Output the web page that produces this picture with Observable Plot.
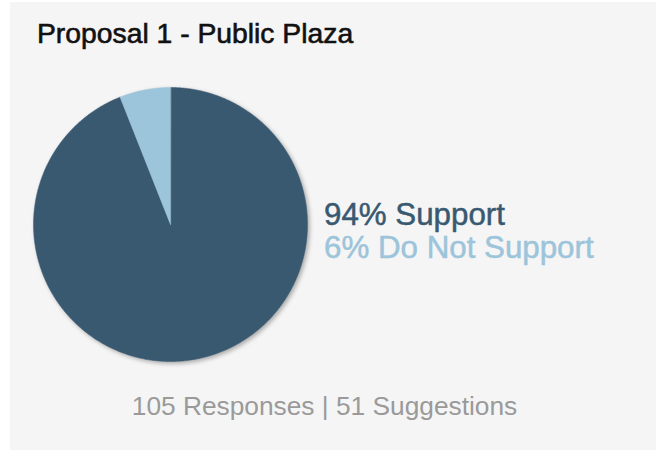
<!DOCTYPE html>
<html>
<head>
<meta charset="utf-8">
<script src="https://cdn.jsdelivr.net/npm/d3@7"></script>
<script src="https://cdn.jsdelivr.net/npm/@observablehq/plot@0.6"></script>
<style>
  html, body { margin: 0; padding: 0; background: #ffffff; width: 656px; height: 450px; overflow: hidden; }
  #panel { position: absolute; left: 10px; top: 2px; width: 646px; height: 448px; background: #f5f5f5; }
  .t { position: absolute; font-family: "Liberation Sans", Arial, sans-serif; line-height: 1; white-space: nowrap; }
  #title { left: 37px; top: 18.7px; font-size: 28.3px; color: #111; -webkit-text-stroke: 0.6px #111; }
  #lab1 { left: 324px; top: 198.5px; font-size: 31.3px; -webkit-text-stroke: 0.5px currentColor; }
  #lab2 { left: 324px; top: 231.5px; font-size: 31.3px; -webkit-text-stroke: 0.5px currentColor; }
  #foot { left: 0; width: 649px; text-align: center; top: 392.7px; font-size: 26.3px; color: #9a9a9a; }
  #pie { position: absolute; left: 20px; top: 73.5px; }
  #pie svg { filter: drop-shadow(2px 2px 2px rgba(0,0,0,0.3)); }
</style>
</head>
<body>
<div id="panel"></div>
<div id="pie"></div>
<div class="t" id="title"></div>
<div class="t" id="lab1"></div>
<div class="t" id="lab2"></div>
<div class="t" id="foot"></div>
<script>
const chartTitle = "Proposal 1 - Public Plaza";
const labels = ["Support", "Do Not Support"];
const values = [94, 6];
const colors = ["#395971", "#9cc4da"];
const responses = 105;
const suggestions = 51;

// Build slice outlines from d3.pie angles (data space: unit circle)
const arcs = d3.pie().sort(null).value(d => d.value)(labels.map((l, i) => ({label: l, value: values[i]})));
const pts = [];
arcs.forEach(a => {
  const lab = a.data.label;
  pts.push({label: lab, x: 0, y: 0});
  const n = Math.max(2, Math.ceil((a.endAngle - a.startAngle) / 0.01));
  for (let k = 0; k <= n; k++) {
    const ang = a.startAngle + (a.endAngle - a.startAngle) * k / n;
    pts.push({label: lab, x: Math.sin(ang), y: Math.cos(ang)});
  }
});

const plot = Plot.plot({
  width: 300,
  height: 300,
  margin: 13,
  x: {domain: [-1, 1], axis: null},
  y: {domain: [-1, 1], axis: null},
  color: {domain: labels, range: colors},
  style: {background: "transparent"},
  marks: [
    Plot.line(pts, {x: "x", y: "y", z: "label", fill: "label", stroke: "label", strokeWidth: 0.5, curve: "linear-closed"})
  ]
});
document.getElementById("pie").appendChild(plot);

const total = d3.sum(values);
document.getElementById("title").textContent = chartTitle;
const l1 = document.getElementById("lab1");
l1.textContent = `${Math.round(values[0] / total * 100)}% ${labels[0]}`;
l1.style.color = colors[0];
const l2 = document.getElementById("lab2");
l2.textContent = `${Math.round(values[1] / total * 100)}% ${labels[1]}`;
l2.style.color = colors[1];
document.getElementById("foot").textContent = `${responses} Responses | ${suggestions} Suggestions`;
</script>
</body>
</html>
